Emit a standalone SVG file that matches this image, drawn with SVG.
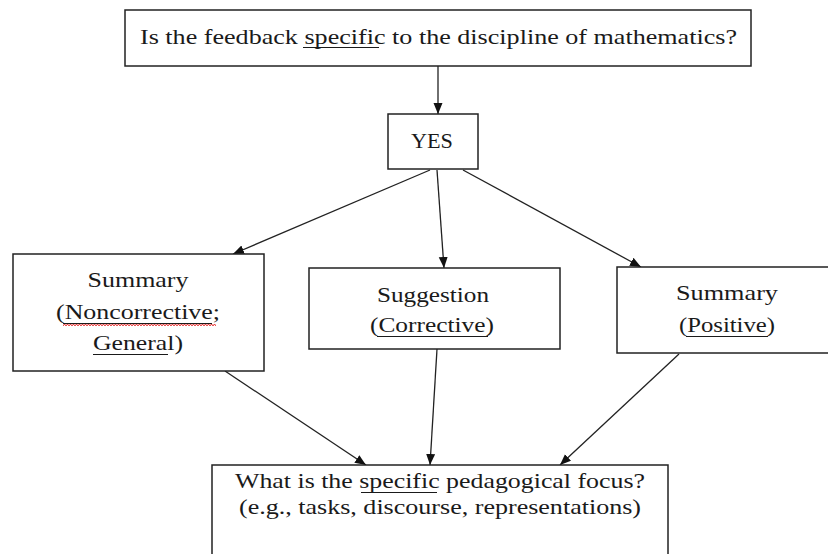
<svg xmlns="http://www.w3.org/2000/svg" width="828" height="554" viewBox="0 0 828 554">
<style>
.box{fill:#fff;stroke:#222;stroke-width:1.5}
.t{font-family:"Liberation Serif","Times New Roman",serif;font-size:21px;fill:#1a1a1a;text-anchor:middle}
.ul{stroke:#1a1a1a;stroke-width:1}
.c{stroke:#222;stroke-width:1.3;fill:none;marker-end:url(#ah)}
</style>
<defs>
<marker id="ah" markerUnits="userSpaceOnUse" markerWidth="12" markerHeight="10" refX="11" refY="4.5" orient="auto">
<path d="M0,0 L11,4.5 L0,9 z" fill="#111"/>
</marker>
</defs>
<rect width="828" height="554" fill="#fff"/>
<g id="connectors">
<line class="c" x1="438" y1="66" x2="438" y2="114"/>
<line class="c" x1="430" y1="170" x2="233" y2="254"/>
<line class="c" x1="437" y1="170" x2="444" y2="268"/>
<line class="c" x1="463" y1="170" x2="641" y2="267"/>
<line class="c" x1="225" y1="371" x2="366" y2="465"/>
<line class="c" x1="437" y1="349" x2="430" y2="465"/>
<line class="c" x1="679" y1="354" x2="560" y2="465"/>
</g>
<g id="question">
<rect class="box" x="125" y="10" width="626" height="56"/>
<text class="t" x="438.5" y="44" textLength="597" lengthAdjust="spacingAndGlyphs">Is the feedback specific to the discipline of mathematics?</text>
<line class="ul" x1="303" y1="47.5" x2="379" y2="47.5"/>
</g>
<g id="yes">
<rect class="box" x="388" y="114" width="90" height="55"/>
<text class="t" x="432" y="148" textLength="42" lengthAdjust="spacingAndGlyphs">YES</text>
</g>
<g id="summary-noncorrective">
<rect class="box" x="13" y="254" width="251" height="117"/>
<text class="t" x="138" y="287" textLength="101" lengthAdjust="spacingAndGlyphs">Summary</text>
<text class="t" x="138" y="319" textLength="164" lengthAdjust="spacingAndGlyphs">(Noncorrective;</text>
<text class="t" x="138" y="350" textLength="90" lengthAdjust="spacingAndGlyphs">General)</text>
<line class="ul" x1="63" y1="323.5" x2="212" y2="323.5"/>
<path d="M63,325.5 l1.5,-1 l1.5,1 l1.5,-1 l1.5,1 l1.5,-1 l1.5,1 l1.5,-1 l1.5,1 l1.5,-1 l1.5,1 l1.5,-1 l1.5,1 l1.5,-1 l1.5,1 l1.5,-1 l1.5,1 l1.5,-1 l1.5,1 l1.5,-1 l1.5,1 l1.5,-1 l1.5,1 l1.5,-1 l1.5,1 l1.5,-1 l1.5,1 l1.5,-1 l1.5,1 l1.5,-1 l1.5,1 l1.5,-1 l1.5,1 l1.5,-1 l1.5,1 l1.5,-1 l1.5,1 l1.5,-1 l1.5,1 l1.5,-1 l1.5,1 l1.5,-1 l1.5,1 l1.5,-1 l1.5,1 l1.5,-1 l1.5,1 l1.5,-1 l1.5,1 l1.5,-1 l1.5,1 l1.5,-1 l1.5,1 l1.5,-1 l1.5,1 l1.5,-1 l1.5,1 l1.5,-1 l1.5,1 l1.5,-1 l1.5,1 l1.5,-1 l1.5,1 l1.5,-1 l1.5,1 l1.5,-1 l1.5,1 l1.5,-1 l1.5,1 l1.5,-1 l1.5,1 l1.5,-1 l1.5,1 l1.5,-1 l1.5,1 l1.5,-1 l1.5,1 l1.5,-1 l1.5,1 l1.5,-1 l1.5,1 l1.5,-1 l1.5,1 l1.5,-1 l1.5,1 l1.5,-1 l1.5,1 l1.5,-1 l1.5,1 l1.5,-1 l1.5,1 l1.5,-1 l1.5,1 l1.5,-1 l1.5,1 l1.5,-1 l1.5,1 l1.5,-1 l1.5,1 l1.5,-1 l1.5,1 l1.5,-1 l1.5,1" fill="none" stroke="#e00000" stroke-width="1"/>
<line class="ul" x1="93" y1="354.5" x2="168" y2="354.5"/>
</g>
<g id="suggestion-corrective">
<rect class="box" x="309" y="268" width="251" height="81"/>
<text class="t" x="433" y="302" textLength="112" lengthAdjust="spacingAndGlyphs">Suggestion</text>
<text class="t" x="432" y="332" textLength="124" lengthAdjust="spacingAndGlyphs">(Corrective)</text>
<line class="ul" x1="377" y1="336.5" x2="488" y2="336.5"/>
</g>
<g id="summary-positive">
<rect class="box" x="617" y="267" width="218" height="86"/>
<text class="t" x="727" y="300" textLength="102" lengthAdjust="spacingAndGlyphs">Summary</text>
<text class="t" x="727" y="332" textLength="96" lengthAdjust="spacingAndGlyphs">(Positive)</text>
<line class="ul" x1="686" y1="336.5" x2="768" y2="336.5"/>
</g>
<g id="pedagogical-focus">
<rect class="box" x="212" y="465" width="456" height="100"/>
<text class="t" x="440" y="488" textLength="410" lengthAdjust="spacingAndGlyphs">What is the specific pedagogical focus?</text>
<line class="ul" x1="361" y1="492.5" x2="437" y2="492.5"/>
<text class="t" x="440" y="514" textLength="402" lengthAdjust="spacingAndGlyphs">(e.g., tasks, discourse, representations)</text>
</g>
</svg>
